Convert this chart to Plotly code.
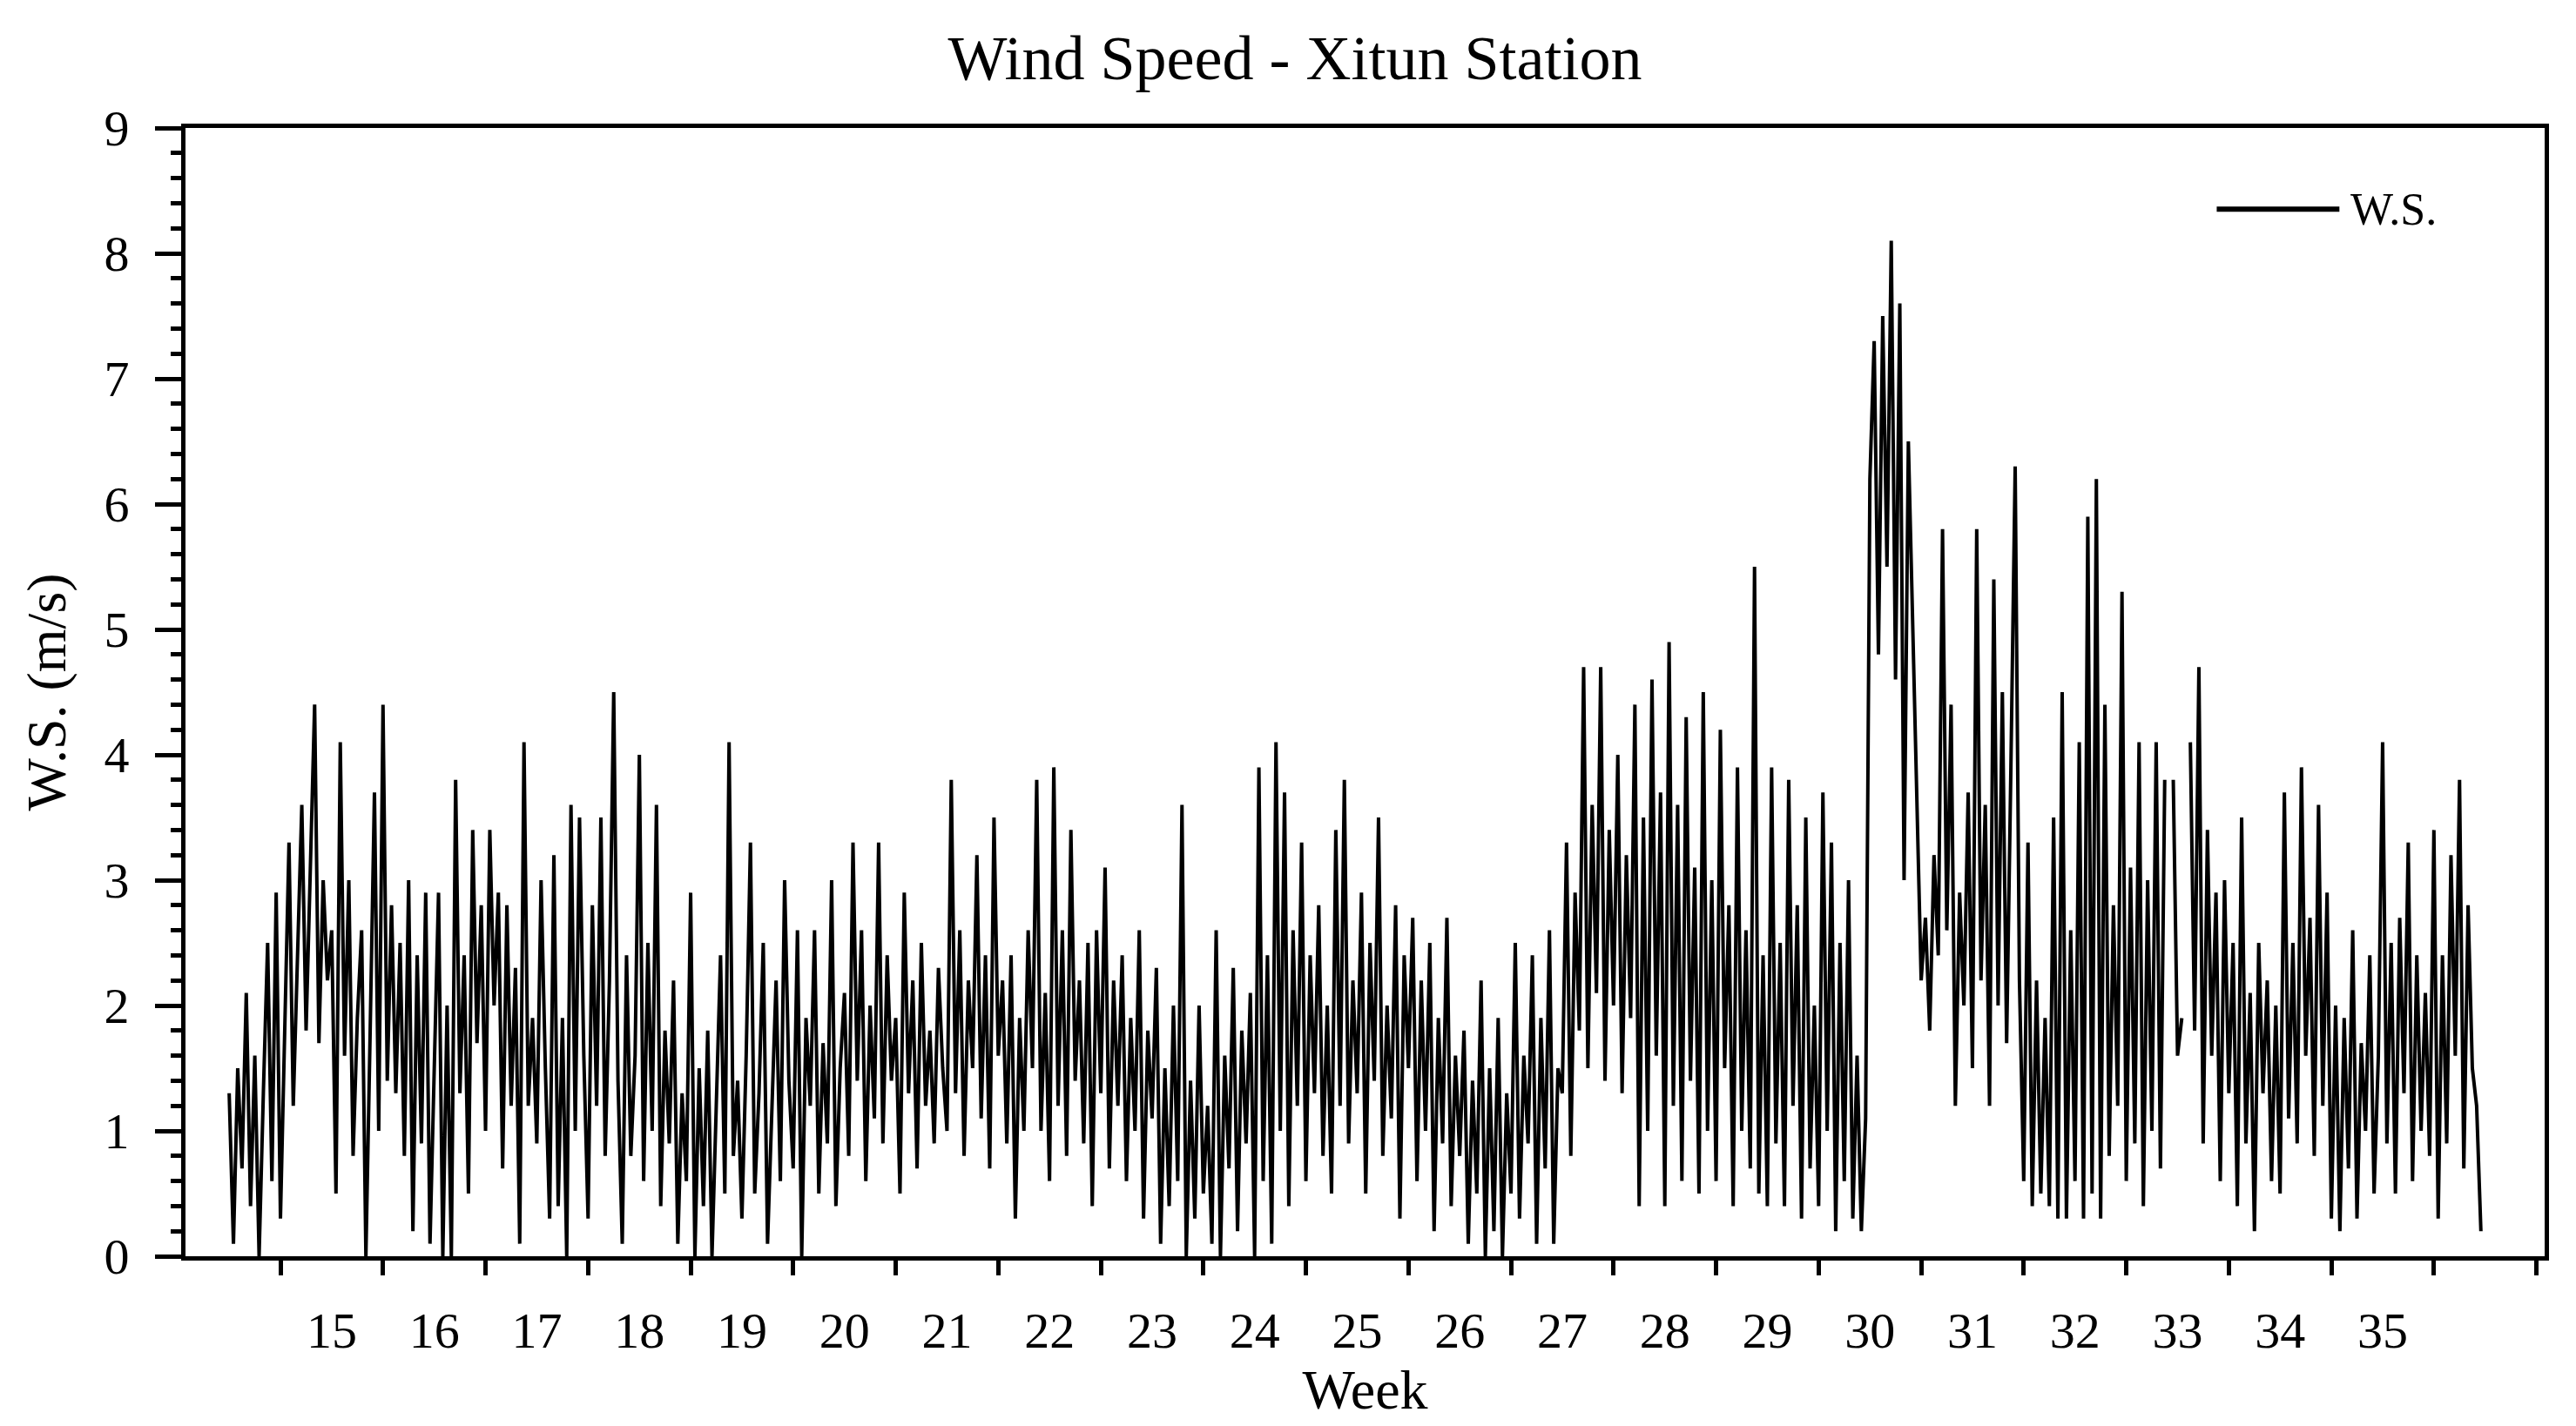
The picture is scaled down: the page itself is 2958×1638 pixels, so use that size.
import plotly.graph_objects as go

week_labels = list(range(15, 36))
start_week = 14
samples_per_week = 24

w14 = [1.3,0.1,1.5,0.7,2.1,0.4,1.6,0.0,1.3,2.5,0.6,2.9,0.3,1.9,3.3,1.2,2.4,3.6,1.8,3.1,4.4,1.7,3.0,2.2]
w15 = [2.6,0.5,4.1,1.6,3.0,0.8,1.9,2.6,0.0,1.8,3.7,1.0,4.4,1.4,2.8,1.3,2.5,0.8,3.0,0.2,2.4,0.9,2.9,0.1]
w16 = [1.5,2.9,0.0,2.0,0.0,3.8,1.3,2.4,0.5,3.4,1.7,2.8,1.0,3.4,2.0,2.9,0.7,2.8,1.2,2.3,0.1,4.1,1.2,1.9]
w17 = [0.9,3.0,1.5,0.3,3.2,0.4,1.9,0.0,3.6,1.0,3.5,1.6,0.3,2.8,1.2,3.5,0.8,2.2,4.5,1.4,0.1,2.4,0.8,1.6]
w18 = [4.0,0.6,2.5,1.0,3.6,0.4,1.8,0.9,2.2,0.1,1.3,0.6,2.9,0.0,1.5,0.4,1.8,0.0,1.2,2.4,0.5,4.1,0.8,1.4]
w19 = [0.3,1.6,3.3,0.5,1.3,2.5,0.1,1.1,2.2,0.6,3.0,1.4,0.7,2.6,0.0,1.9,1.2,2.6,0.5,1.7,0.9,3.0,0.4,1.5]
w20 = [2.1,0.8,3.3,1.4,2.6,0.6,2.0,1.1,3.3,0.9,2.4,1.4,1.9,0.5,2.9,1.3,2.2,0.7,2.5,1.2,1.8,0.9,2.3,1.5]
w21 = [1.0,3.8,1.3,2.6,0.8,2.2,1.5,3.2,1.1,2.4,0.7,3.5,1.6,2.2,0.9,2.4,0.3,1.9,1.0,2.6,1.5,3.8,1.0,2.1]
w22 = [0.6,3.9,1.2,2.6,0.8,3.4,1.4,2.2,0.9,2.5,0.4,2.6,1.3,3.1,0.7,2.2,1.2,2.4,0.6,1.9,1.0,2.6,0.3,1.8]
w23 = [1.1,2.3,0.1,1.5,0.4,2.0,0.6,3.6,0.0,1.4,0.3,2.0,0.5,1.2,0.1,2.6,0.0,1.6,0.7,2.3,0.2,1.8,0.9,2.1]
w24 = [0.0,3.9,0.6,2.4,0.1,4.1,1.0,3.7,0.4,2.6,1.2,3.3,0.6,2.4,1.3,2.8,0.8,2.0,0.5,3.4,1.2,3.8,0.9,2.2]
w25 = [1.3,2.9,0.5,2.5,1.4,3.5,0.8,2.0,1.1,2.8,0.3,2.4,1.5,2.7,0.6,2.2,1.0,2.5,0.2,1.9,0.9,2.7,0.4,1.6]
w26 = [0.8,1.8,0.1,1.4,0.5,2.2,0.0,1.5,0.2,1.9,0.0,1.3,0.5,2.5,0.3,1.6,0.9,2.4,0.1,1.9,0.7,2.6,0.1,1.5]
w27 = [1.3,3.3,0.8,2.9,1.8,4.7,1.5,3.6,2.1,4.7,1.4,3.4,2.0,4.0,1.3,3.2,1.9,4.4,0.4,3.5,1.0,4.6,1.6,3.7]
w28 = [0.4,4.9,1.2,3.6,0.6,4.3,1.4,3.1,0.5,4.5,1.0,3.0,0.6,4.2,1.5,2.8,0.4,3.9,1.0,2.6,0.7,5.5,0.5,2.4]
w29 = [0.4,3.9,0.9,2.5,0.4,3.8,1.2,2.8,0.3,3.5,0.7,2.0,0.4,3.7,1.0,3.3,0.2,2.5,0.6,3.0,0.3,1.6,0.2,1.1]
w30 = [6.2,7.3,4.8,7.5,5.5,8.1,4.6,7.6,3.0,6.5,5.1,3.6,2.2,2.7,1.8,3.2,2.4,5.8,2.6,4.4,1.2,2.9,2.0,3.7]
w31 = [1.5,5.8,2.2,3.6,1.2,5.4,2.0,4.5,1.7,3.9,6.3,2.2,0.6,3.3,0.4,2.2,0.5,1.9,0.4,3.5,0.3,4.5,0.3,2.6]
w32 = [0.6,4.1,0.3,5.9,0.5,6.2,0.3,4.4,0.8,2.8,1.2,5.3,0.6,3.1,0.9,4.1,0.4,3.0,1.0,4.1,0.7,3.8,None,3.8]
w33 = [1.6,1.9,None,4.1,1.8,4.7,0.9,3.4,1.6,2.9,0.6,3.0,1.3,2.5,0.4,3.5,0.9,2.1,0.2,2.5,1.3,2.2,0.6,2.0]
w34 = [0.5,3.7,1.1,2.5,0.9,3.9,1.6,2.7,0.8,3.6,1.2,2.9,0.3,2.0,0.2,1.9,0.7,2.6,0.3,1.7,1.0,2.4,0.5,1.6]
w35 = [4.1,0.9,2.5,0.5,2.7,1.3,3.3,0.6,2.4,1.0,2.1,0.8,3.4,0.3,2.4,0.9,3.2,1.6,3.8,0.7,2.8,1.5,1.2,0.2]

weeks = [w14,w15,w16,w17,w18,w19,w20,w21,w22,w23,w24,w25,w26,w27,w28,w29,w30,w31,w32,w33,w34,w35]
ws = [v for w in weeks for v in w]
x = [start_week + i / samples_per_week for i in range(len(ws))]

FONT = "Liberation Serif"
fig = go.Figure()
fig.add_trace(go.Scatter(x=x, y=ws, mode="lines", name="W.S.",
                         line=dict(color="black", width=4), showlegend=False))

axis_common = dict(showline=True, linecolor="black", linewidth=5, mirror=True,
                   showgrid=False, zeroline=False,
                   tickfont=dict(family=FONT, size=58, color="black"))
fig.update_xaxes(range=[13.574, 36.58], tickmode="array", tickvals=week_labels,
                 ticktext=[str(w) for w in week_labels], ticks="", ticklabelstandoff=30,
                 minor=dict(tick0=14.5, dtick=1, ticks="outside", ticklen=17,
                            tickwidth=5, tickcolor="black"),
                 title=dict(text="Week", font=dict(family=FONT, size=64, color="black"),
                            standoff=15),
                 **axis_common)
fig.update_yaxes(range=[0, 9], tickmode="linear", tick0=0, dtick=1, ticks="outside",
                 ticklen=30, tickwidth=5, tickcolor="black", ticklabelstandoff=18,
                 minor=dict(dtick=0.2, ticks="outside", ticklen=12, tickwidth=5,
                            tickcolor="black"),
                 title=dict(text="W.S. (m/s)", font=dict(family=FONT, size=64, color="black"),
                            standoff=25),
                 **axis_common)

fig.add_shape(type="line", xref="paper", yref="paper", x0=0.861, x1=0.913,
              y0=0.928, y1=0.928, line=dict(color="black", width=6))
fig.add_annotation(xref="paper", yref="paper", x=0.917, y=0.928, text="W.S.",
                   showarrow=False, xanchor="left", yanchor="middle",
                   font=dict(family=FONT, size=52, color="black"))

fig.update_layout(
    width=2958, height=1638,
    margin=dict(l=205, r=44, t=139, b=203),
    paper_bgcolor="white", plot_bgcolor="white",
    title=dict(text="Wind Speed - Xitun Station", x=0.5, xanchor="center",
               y=0.965, yanchor="middle",
               font=dict(family=FONT, size=72, color="black")),
)
fig.write_html("out.html")
